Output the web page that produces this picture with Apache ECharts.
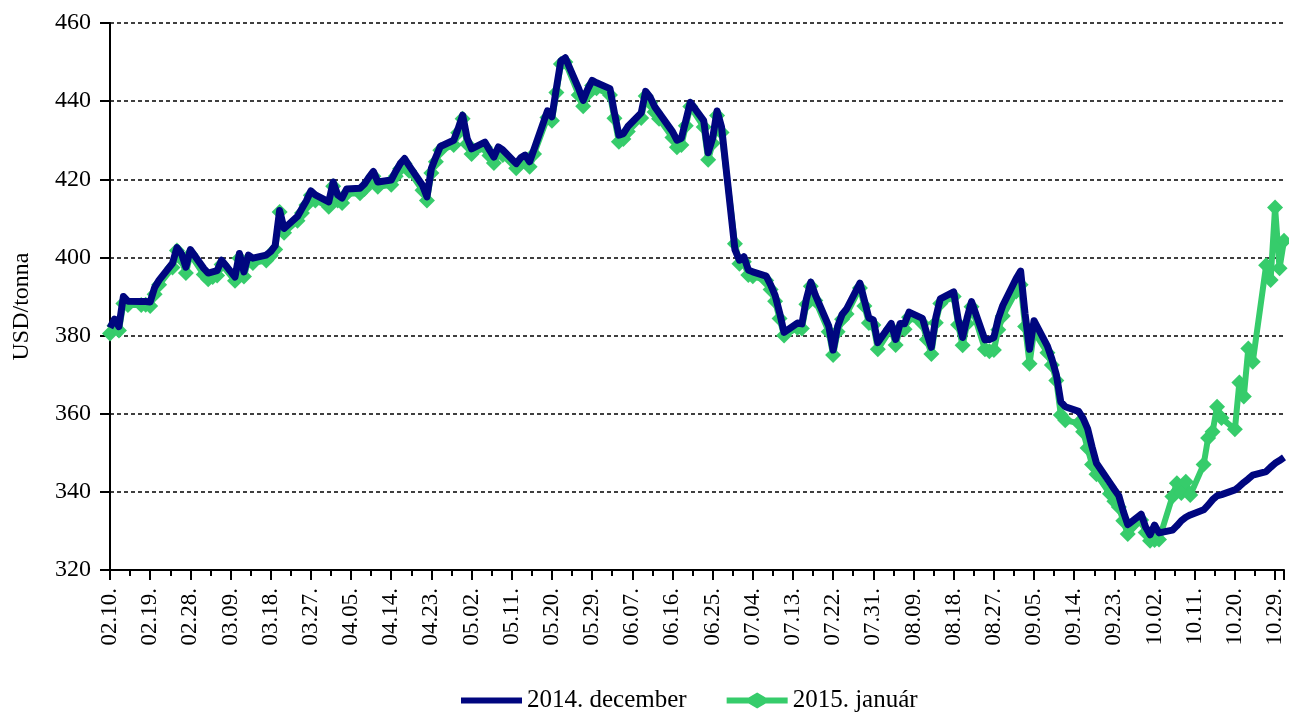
<!DOCTYPE html>
<html>
<head>
<meta charset="utf-8">
<script src="https://cdn.jsdelivr.net/npm/echarts/dist/echarts.min.js"></script>
<style>
  html, body { margin: 0; padding: 0; background: #fff; }
  #chart { width: 1289px; height: 715px; }
</style>
</head>
<body>
<div id="chart"></div>
<script>
// x tick labels, one every 9 calendar days from 02.10.
const tickLabels = ['02.10.', '02.19.', '02.28.', '03.09.', '03.18.', '03.27.', '04.05.', '04.14.',
  '04.23.', '05.02.', '05.11.', '05.20.', '05.29.', '06.07.', '06.16.', '06.25.', '07.04.', '07.13.',
  '07.22.', '07.31.', '08.09.', '08.18.', '08.27.', '09.05.', '09.14.', '09.23.', '10.02.', '10.11.',
  '10.20.', '10.29.'];

const seriesNames = ['2014. december', '2015. január'];

// one value per weekday (Mon-Fri), 02.10. .. 10.31.
const decValues = [
  382.0, 384.2, 382.3, 390.0, 388.8,
  388.7, 388.7, 388.6, 392.3, 394.2,
  398.5, 402.5, 401.0, 397.5, 402.0,
  397.2, 396.0, 396.3, 396.6, 399.3,
  395.0, 401.0, 396.3, 400.6, 399.8,
  400.6, 401.5, 403.0, 412.0, 407.4,
  410.5, 412.5, 414.5, 417.0, 416.0,
  414.2, 419.3, 416.0, 415.2, 417.5,
  417.7, 418.8, 420.5, 422.0, 419.3,
  419.8, 422.0, 424.0, 425.3, 423.5,
  418.5, 415.5, 422.8, 425.7, 428.4,
  430.0, 433.0, 436.4, 430.5, 427.8,
  429.5, 427.5, 425.7, 428.3, 427.5,
  424.0, 425.5, 426.2, 424.5, 427.7,
  437.5, 436.0, 443.3, 450.3, 451.1,
  443.2, 440.2, 443.0, 445.3, 444.7,
  443.2, 437.0, 431.3, 431.7, 433.5,
  437.0, 442.5, 441.0, 438.6, 437.0,
  432.2, 430.0, 430.5, 435.0, 439.7,
  435.0, 426.8, 430.5, 437.5, 433.4,
  402.0, 399.3, 400.2, 396.8, 396.3,
  395.2, 393.0, 390.3, 385.9, 380.8,
  383.2, 383.0, 389.3, 393.7, 390.4,
  382.5, 376.3, 382.3, 385.4, 386.8,
  393.4, 389.0, 384.5, 384.0, 378.2,
  383.1, 379.0, 383.1, 383.0, 386.0,
  384.4, 380.5, 377.0, 384.6, 389.4,
  391.2, 384.2, 379.5, 384.5, 388.7,
  378.9, 379.0, 379.5, 384.4, 387.7,
  394.6, 396.5, 385.5, 376.5, 383.8,
  377.3, 374.0, 370.0, 363.0, 361.8,
  360.6, 358.8, 356.2, 351.5, 347.3,
  342.3, 340.6, 339.0, 335.0, 331.6,
  334.3, 331.0, 329.0, 331.5, 329.5,
  330.2, 331.3, 332.6, 333.5, 334.1,
  335.4, 336.6, 338.0, 339.0, 339.3,
  340.5, 341.4, 342.4, 343.3, 344.3,
  345.2, 346.3, 347.3, 348.0, 348.8
];

const janValues = [
  380.5, 382.5, 381.3, 388.2, 387.8,
  387.8, 387.9, 387.6, 390.6, 393.0,
  397.4, 401.8, 399.6, 396.0, 400.8,
  395.6, 394.4, 395.0, 395.4, 398.2,
  394.0, 399.8, 395.1, 399.3, 398.6,
  399.2, 400.4, 402.0, 411.6, 406.3,
  409.4, 411.4, 413.4, 415.9, 414.6,
  413.0, 418.2, 414.6, 413.9, 416.3,
  416.4, 417.5, 419.2, 420.8, 418.1,
  418.6, 420.8, 422.7, 424.0, 422.2,
  417.2, 414.6, 421.6, 424.5, 427.4,
  428.8, 431.9, 435.5, 429.0, 426.5,
  428.2, 426.1, 424.2, 427.0, 426.2,
  422.8, 424.3, 425.0, 423.2, 426.5,
  435.8, 435.0, 442.2, 449.5, 450.0,
  441.6, 438.7, 441.8, 444.0, 443.3,
  441.6, 435.6, 429.6, 430.3, 432.2,
  435.7, 441.3, 439.6, 437.2, 435.5,
  430.7, 428.2, 428.8, 433.7, 438.6,
  433.4, 425.0, 429.2, 436.3, 432.0,
  403.5, 398.4, 398.9, 395.5, 395.2,
  394.1, 391.8, 388.8, 384.4, 380.0,
  382.0, 381.8, 388.0, 392.6, 389.0,
  381.0, 375.0, 381.0, 384.2, 385.5,
  392.2, 387.6, 383.2, 382.7, 376.5,
  381.8, 377.6, 381.7, 381.6, 384.7,
  383.1, 379.0, 375.3, 383.3, 388.2,
  390.0, 382.8, 377.5, 383.0, 387.4,
  376.5, 376.0, 376.3, 381.5, 385.0,
  391.3, 393.0, 382.3, 372.8, 381.0,
  375.6, 372.5, 368.5, 359.7, 358.3,
  357.6, 355.4, 351.2, 347.0, 344.5,
  339.5, 337.6, 336.1, 332.6, 329.2,
  332.8, 329.6, 327.5, 327.7, 327.8,
  338.8, 342.2, 339.7, 342.6, 339.2,
  347.0, 353.8, 355.4, 361.8, 358.9,
  356.0, 368.0, 364.4, 376.7, 373.3,
  398.0, 394.2, 412.8, 397.2, 404.3
];

// day offsets (from 02.10., a Monday) of the weekdays
const lastDay = 263;
const days = [];
for (let d = 0; d <= lastDay; d++) {
  if (d % 7 < 5) days.push(d);
}

const font = 'Liberation Serif';
const navy = '#00067f';
const green = '#36cc6b';

const chart = echarts.init(document.getElementById('chart'));
chart.setOption({
  animation: false,
  backgroundColor: '#fff',
  textStyle: { fontFamily: font, color: '#000' },
  grid: {
    left: 110,
    right: 5,
    top: 23,
    bottom: 145,
    outerBoundsMode: 'none'
  },
  legend: {
    left: 461,
    top: 688,
    padding: 0,
    itemWidth: 61,
    itemHeight: 16,
    itemGap: 40,
    textStyle: { fontFamily: font, fontSize: 25, color: '#000' },
    data: [
      { name: seriesNames[0], icon: 'path://M0,0H61V6H0Z' },
      { name: seriesNames[1], icon: 'path://M0,5H22L30.5,0L39,5H61V11H39L30.5,16L22,11H0Z' }
    ]
  },
  xAxis: {
    type: 'value',
    min: 0,
    max: lastDay,
    interval: 9,
    axisLine: { show: true, onZero: false, lineStyle: { color: '#000', width: 2 } },
    axisTick: { show: true, length: 10, lineStyle: { color: '#000', width: 2 } },
    minorTick: { show: true, splitNumber: 2, length: 6, lineStyle: { color: '#000', width: 2 } },
    splitLine: { show: false },
    axisLabel: {
      rotate: 90,
      margin: 18,
      fontSize: 23,
      fontFamily: font,
      color: '#000',
      showMaxLabel: false,
      formatter: function (v) {
        return v % 9 === 0 && tickLabels[v / 9] ? tickLabels[v / 9] : '';
      }
    }
  },
  yAxis: {
    type: 'value',
    min: 320,
    max: 460,
    interval: 20,
    name: 'USD/tonna',
    nameLocation: 'middle',
    nameGap: 76,
    nameRotate: 90,
    nameTextStyle: { fontFamily: font, fontSize: 24, color: '#000', padding: [0, 20, 0, 0] },
    axisLine: { show: true, lineStyle: { color: '#000', width: 2 } },
    axisTick: { show: true, length: 10, lineStyle: { color: '#000', width: 2 } },
    splitLine: { show: true, lineStyle: { color: '#000', width: 1.6, type: [4, 3] } },
    axisLabel: { margin: 19, fontSize: 24, fontFamily: font, color: '#000' }
  },
  series: [
    {
      name: seriesNames[0],
      type: 'line',
      z: 3,
      data: days.map((d, i) => [d, decValues[i]]),
      symbol: 'none',
      lineStyle: { color: navy, width: 7, join: 'round' },
      itemStyle: { color: navy }
    },
    {
      name: seriesNames[1],
      type: 'line',
      z: 2,
      data: days.map((d, i) => [d, janValues[i]]),
      symbol: 'diamond',
      symbolSize: 16,
      showSymbol: true,
      lineStyle: { color: green, width: 6, join: 'round' },
      itemStyle: { color: green }
    }
  ]
});
</script>
</body>
</html>
